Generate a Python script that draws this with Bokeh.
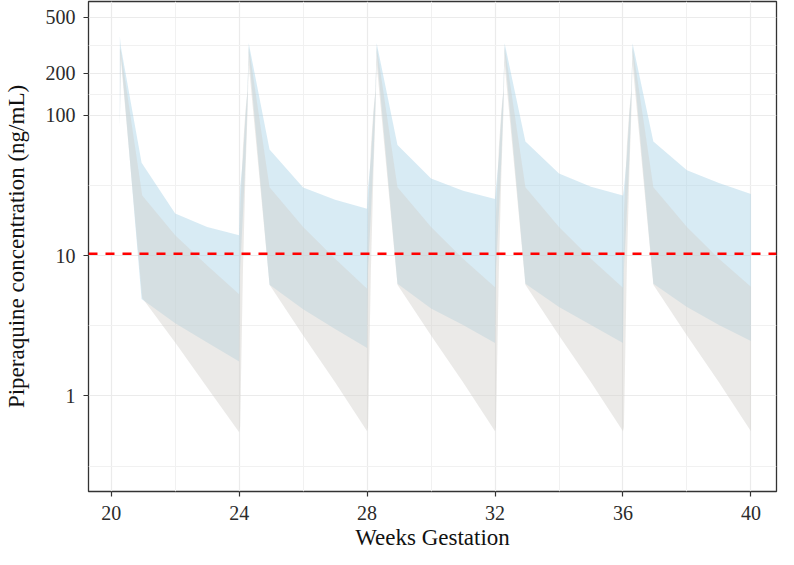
from bokeh.plotting import figure
from bokeh.models import Range1d, FixedTicker, NumeralTickFormatter, Span, Title
from bokeh.embed import file_html
from bokeh.resources import INLINE

# ---- data (weeks of gestation, ng/mL) ----
# light-blue ribbon
blue_weeks = [20.27, 20.30, 20.95, 22.00, 23.00, 24.00,
              24.03, 24.12, 24.20, 24.26, 24.30, 24.95, 26.00, 27.00, 28.00,
              28.03, 28.12, 28.20, 28.26, 28.30, 28.95, 30.00, 31.00, 32.00,
              32.03, 32.12, 32.20, 32.26, 32.30, 32.95, 34.00, 35.00, 36.00,
              36.03, 36.12, 36.20, 36.26, 36.30, 36.95, 38.00, 39.00, 40.00]
blue_lower = [82, 280, 4.9, 3.3, 2.4, 1.76,
              8, 20, 50, 120, 280, 6.2, 4.15, 3.0, 2.2,
              8, 20, 50, 120, 280, 6.3, 4.2, 3.2, 2.38,
              8, 20, 50, 120, 280, 6.3, 4.3, 3.2, 2.38,
              8, 20, 50, 120, 280, 6.3, 4.3, 3.2, 2.46]
blue_upper = [367, 310, 46, 20, 16, 14,
              30, 50, 100, 150, 327, 57, 30.6, 25, 21.6,
              30, 50, 100, 150, 327, 61.6, 35.5, 29, 25.3,
              30, 50, 100, 150, 327, 65, 38.5, 31, 26.8,
              30, 50, 100, 150, 327, 65, 40.6, 33, 27.5]

# grey ribbon
grey_weeks = [20.27, 20.30, 20.97, 22.00, 23.00, 24.00,
              24.03, 24.12, 24.20, 24.26, 24.30, 24.95, 26.00, 27.00, 28.00,
              28.03, 28.12, 28.20, 28.26, 28.30, 28.95, 30.00, 31.00, 32.00,
              32.03, 32.12, 32.20, 32.26, 32.30, 32.95, 34.00, 35.00, 36.00,
              36.03, 36.12, 36.20, 36.26, 36.30, 36.95, 38.00, 39.00, 40.00]
grey_lower = [80, 250, 5.0, 2.4, 1.15, 0.55,
              0.6, 8, 40, 100, 230, 6.2, 2.7, 1.25, 0.56,
              0.6, 8, 40, 100, 230, 6.2, 2.7, 1.25, 0.56,
              0.6, 8, 40, 100, 230, 6.2, 2.7, 1.25, 0.56,
              0.6, 8, 40, 100, 230, 6.2, 2.7, 1.25, 0.56]
grey_upper = [300, 290, 26.8, 14, 8.5, 5.3,
              20, 60, 110, 150, 310, 30.7, 16, 9.5, 5.8,
              20, 60, 110, 150, 310, 30.7, 16, 9.5, 5.96,
              20, 60, 110, 150, 310, 30.7, 16, 9.5, 5.9,
              20, 60, 110, 150, 310, 30.7, 16, 9.5, 6.0]

threshold = 10.3

x_ticks = [20, 24, 28, 32, 36, 40]
x_minor = [22, 26, 30, 34, 38]
y_ticks = [1, 10, 100, 200, 500]
y_minor = [0.316, 3.16, 31.6, 141, 316]

x_title = "Weeks Gestation"
y_title = "Piperaquine concentration (ng/mL)"

FONT = "Liberation Serif"

p = figure(width=778, height=549, y_axis_type="log",
           x_range=Range1d(19.29, 40.80), y_range=Range1d(0.2084, 648),
           output_backend="svg", toolbar_location=None,
           min_border_left=81, min_border_right=2, min_border_top=1, min_border_bottom=0)

p.background_fill_color = "white"
p.border_fill_color = "white"
p.outline_line_color = "#333333"
p.outline_line_width = 1.3

p.varea(x=blue_weeks, y1=blue_lower, y2=blue_upper,
        fill_color=(168, 211, 231), fill_alpha=0.45)
p.varea(x=grey_weeks, y1=grey_lower, y2=grey_upper,
        fill_color=(211, 208, 204), fill_alpha=0.45)

p.add_layout(Span(location=threshold, dimension="width", line_color="#FF0000",
                  line_width=2.5, line_dash="9 8"))

p.xaxis.ticker = FixedTicker(ticks=x_ticks, minor_ticks=x_minor)
p.yaxis.ticker = FixedTicker(ticks=y_ticks, minor_ticks=y_minor)
p.yaxis.formatter = NumeralTickFormatter(format="0")

for g in (p.xgrid, p.ygrid):
    g.grid_line_color = "#EBEBEB"
    g.grid_line_width = 1.2
    g.minor_grid_line_color = "#F1F1F1"
    g.minor_grid_line_width = 1

for ax in (p.xaxis, p.yaxis):
    ax.axis_line_color = None
    ax.major_tick_line_color = "#333333"
    ax.major_tick_line_width = 1.2
    ax.major_tick_out = 5
    ax.major_tick_in = 0
    ax.minor_tick_line_color = None
    ax.major_label_text_font = FONT
    ax.major_label_text_font_size = "20px"
    ax.major_label_text_color = "#2b2b2b"
    ax.axis_label_text_font = FONT
    ax.axis_label_text_font_size = "23px"
    ax.axis_label_text_font_style = "normal"
    ax.axis_label_text_color = "#111111"

p.yaxis.axis_label = y_title
p.xaxis.major_label_standoff = 9
p.yaxis.major_label_standoff = 8
p.yaxis.axis_label_standoff = 14

# x-axis title as a "below" title, centred under the panel
p.add_layout(Title(text=x_title, align="center", text_font=FONT,
                   text_font_size="23px", text_font_style="normal",
                   text_color="#111111", standoff=0), "below")

open("out.html", "w").write(file_html(p, INLINE))
